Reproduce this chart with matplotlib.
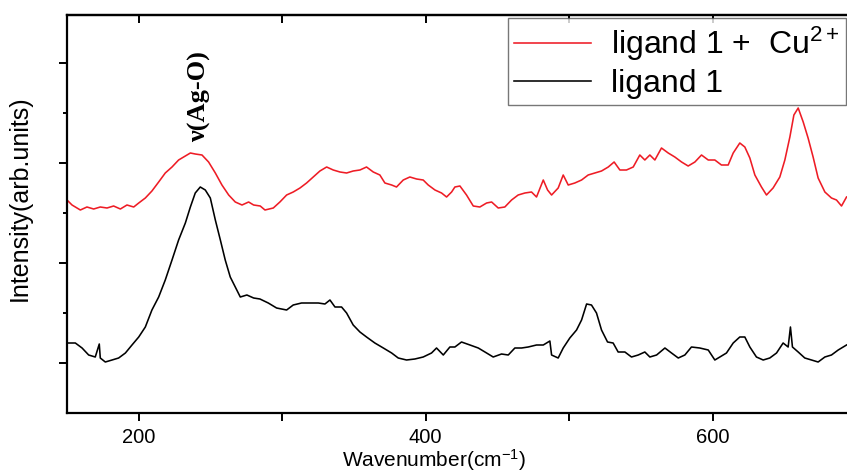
import numpy as np
import matplotlib
matplotlib.use("Agg")
import matplotlib.pyplot as plt
from matplotlib.ticker import FixedLocator, NullFormatter

# ligand 1 + Cu2+ (red)
wn_cu = [150.0, 153.5, 159.3, 163.9, 168.6, 173.2, 177.9, 182.5, 187.2, 191.8,
         196.5, 200.0, 204.6, 209.2, 213.9, 218.5, 223.2, 227.8, 232.5, 236.0,
         239.4, 244.1, 248.7, 253.4, 258.0, 262.7, 267.3, 272.0, 276.6, 280.1,
         284.7, 288.0, 293.8, 298.4, 303.1, 307.7, 312.4, 317.0, 321.7, 326.3,
         331.0, 335.6, 340.3, 344.9, 349.5, 354.2, 358.8, 363.5, 368.1, 371.6,
         376.3, 379.7, 384.4, 389.0, 393.7, 398.3, 401.8, 406.5, 411.1, 414.6,
         418.1, 420.4, 423.9, 428.5, 433.2, 437.8, 442.5, 446.0, 450.6, 455.2,
         459.9, 464.5, 469.2, 473.8, 477.3, 482.0, 485.0, 487.8, 492.4, 495.9,
         499.4, 504.0, 508.7, 513.3, 518.0, 522.6, 527.3, 531.4, 535.4, 540.0,
         544.7, 549.3, 552.8, 556.3, 559.8, 564.4, 569.1, 573.7, 578.4, 583.0,
         587.7, 592.3, 597.0, 601.6, 606.2, 610.9, 614.4, 619.0, 622.5, 626.0,
         629.5, 634.1, 637.6, 642.2, 646.9, 650.4, 653.9, 656.7, 659.7, 663.2,
         666.6, 670.1, 673.6, 678.3, 682.9, 686.4, 689.9, 693.4]
int_cu = [213, 208, 203, 206, 204, 206, 205, 207, 204, 208,
          206, 210, 215, 222, 231, 240, 246, 253, 257, 260,
          259, 258, 251, 240, 228, 218, 211, 208, 211, 208,
          207, 203, 205, 211, 218, 221, 225, 230, 236, 242,
          246, 243, 241, 240, 242, 243, 246, 241, 238, 230,
          228, 226, 233, 236, 234, 233, 228, 223, 220, 216,
          221, 226, 227, 218, 207, 206, 210, 211, 205, 206,
          213, 218, 220, 221, 216, 233, 223, 218, 225, 238,
          228, 230, 233, 238, 240, 242, 246, 251, 243, 243,
          246, 258, 253, 258, 253, 265, 260, 256, 251, 247,
          251, 258, 253, 253, 248, 248, 260, 270, 266, 255,
          238, 226, 218, 225, 236, 253, 276, 298, 305, 291,
          275, 256, 235, 221, 215, 213, 207, 216]

# ligand 1 (black)
wn_l = [150.0, 155.8, 160.5, 165.1, 169.7, 172.5, 173.2, 176.7, 181.4, 186.0,
        190.7, 195.3, 200.0, 204.6, 209.2, 213.9, 218.5, 223.2, 227.8, 232.5,
        236.0, 239.4, 242.9, 246.4, 249.9, 253.4, 256.9, 260.3, 263.8, 267.3,
        270.8, 275.4, 280.1, 284.5, 290.3, 296.1, 303.1, 307.7, 313.5, 319.3,
        325.2, 329.8, 333.3, 336.8, 341.4, 344.9, 349.5, 354.2, 358.8, 364.6,
        370.5, 376.3, 380.9, 386.7, 392.5, 398.3, 404.1, 407.6, 412.3, 416.9,
        420.4, 425.0, 430.9, 436.7, 442.5, 447.1, 452.9, 457.6, 462.2, 466.9,
        471.5, 477.3, 482.0, 486.6, 487.8, 492.4, 495.9, 500.5, 505.2, 508.7,
        512.2, 515.6, 519.1, 522.6, 526.8, 530.7, 534.2, 538.9, 543.5, 548.2,
        552.8, 556.3, 561.0, 566.8, 571.4, 576.1, 580.7, 585.3, 591.1, 597.0,
        601.6, 605.1, 609.7, 614.4, 619.0, 622.5, 626.0, 630.6, 635.3, 639.9,
        644.6, 649.2, 652.7, 654.3, 655.7, 659.7, 664.3, 669.0, 673.6, 678.3,
        682.9, 687.6, 693.4]
int_l = [70, 70, 65, 58, 56, 69, 55, 51, 53, 55,
         60, 68, 76, 86, 103, 116, 133, 153, 173, 190,
         206, 220, 226, 223, 215, 193, 173, 153, 136, 126,
         116, 118, 115, 114, 110, 105, 103, 108, 110, 110,
         110, 109, 113, 106, 106, 100, 88, 81, 76, 70,
         65, 60, 55, 53, 54, 56, 60, 65, 58, 66,
         66, 71, 68, 65, 60, 56, 59, 58, 65, 65,
         66, 68, 68, 72, 58, 55, 65, 75, 83, 93,
         109, 108, 100, 83, 71, 70, 61, 61, 56, 58,
         61, 56, 58, 65, 60, 55, 58, 66, 65, 63,
         53, 56, 60, 70, 76, 76, 66, 56, 53, 55,
         60, 70, 66, 86, 66, 61, 55, 53, 51, 56,
         58, 63, 68]

plt.rcParams['font.family'] = ['Liberation Sans', 'DejaVu Sans']
plt.rcParams['mathtext.fontset'] = 'custom'
plt.rcParams['mathtext.rm'] = 'Liberation Sans'
plt.rcParams['mathtext.it'] = 'Liberation Sans'
plt.rcParams['mathtext.default'] = 'regular'

fig = plt.figure(figsize=(8.47, 4.74), dpi=100)
ax = fig.add_axes([67/847, 61/474, 789/847, 398/474])

ax.plot(wn_cu, int_cu, color='#ee1c25', lw=1.15, label='ligand 1 +  Cu$^{2+}$')
ax.plot(wn_l, int_l, color='black', lw=1.15, label='ligand 1')

ax.set_xlim(150, 700)
ax.set_ylim(0, 398)

for s in ax.spines.values():
    s.set_linewidth(1.6)

ax.xaxis.set_major_locator(FixedLocator([200, 400, 600]))
ax.xaxis.set_minor_locator(FixedLocator([300, 500]))
ax.yaxis.set_major_locator(FixedLocator([50, 150, 250, 350]))
ax.yaxis.set_minor_locator(FixedLocator([100, 200, 300]))
ax.yaxis.set_major_formatter(NullFormatter())
ax.tick_params(axis='x', which='both', direction='out', length=6, width=1.4,
               labelsize=14.5, pad=5)
ax.tick_params(axis='y', which='major', direction='out', length=6, width=1.4)
ax.tick_params(axis='y', which='minor', direction='out', length=3, width=1.4)

# mirrored ticks on the top axis, pointing inward
top = ax.secondary_xaxis('top')
top.xaxis.set_major_locator(FixedLocator([200, 300, 400, 500, 600]))
top.tick_params(direction='in', length=6, width=1.4, labeltop=False)
top.spines['top'].set_linewidth(1.6)

ax.set_xlabel('Wavenumber(cm$^{-1}$)', fontsize=15, labelpad=1)
ax.xaxis.set_label_coords((434 - 67) / 789, -0.085)
ax.set_ylabel('Intensity(arb.units)', fontsize=18)
ax.yaxis.set_label_coords((32 - 67) / 789, (413 - 198) / 398)

ax.text(242.7, 316, 'ν(Ag-O)', rotation=90, ha='center', va='center',
        fontsize=19, fontweight='bold', family=['Liberation Serif', 'DejaVu Serif'])

leg = ax.legend(loc='upper left', bbox_to_anchor=(508/847, 1 - 18/474),
                bbox_transform=fig.transFigure, fontsize=23, frameon=True,
                fancybox=False, edgecolor='#555555', handlelength=2.4,
                handletextpad=0.63, borderpad=0.2, labelspacing=0.2,
                borderaxespad=0)
leg.get_frame().set_linewidth(1.0)

fig.savefig('out.png', dpi=100)
